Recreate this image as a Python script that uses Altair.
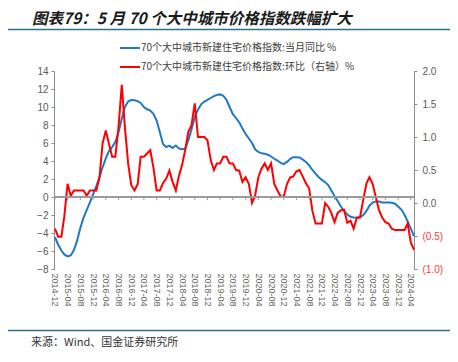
import altair as alt
import pandas as pd

# ---------------- data ----------------
months = pd.date_range("2014-12-01", "2024-05-01", freq="MS").strftime("%Y-%m-%d").tolist()

yoy = [-4.47, -5.3, -5.95, -6.38, -6.6, -6.5, -5.9, -4.85, -3.45, -2.3,
       -1.45, -0.6, 0.3, 1.2, 2.2, 3.3, 4.3, 5.1, 5.55, 6.1,
       7.2, 8.7, 10.0, 10.6, 10.78, 10.75, 10.65, 10.45, 10.0, 9.75,
       9.6, 9.25, 8.5, 7.2, 5.9, 5.55, 5.7, 5.45, 5.72, 5.4,
       5.3, 5.35, 6.3, 7.5, 8.9, 9.7, 10.3, 10.6, 10.8, 11.0,
       11.2, 11.35, 11.4, 11.25, 10.8, 10.0, 9.2, 8.75, 8.3, 7.6,
       7.0, 6.5, 6.0, 5.3, 5.0, 4.85, 4.8, 4.7, 4.5, 4.25,
       4.05, 3.8, 3.65, 3.9, 4.25, 4.42, 4.42, 4.4, 4.15, 3.9,
       3.5, 3.0, 2.6, 2.2, 1.9, 1.65, 1.3, 0.72, 0.1, -0.45,
       -1.05, -1.55, -1.95, -2.2, -2.28, -2.3, -2.25, -2.0, -1.55, -0.97,
       -0.62, -0.5, -0.5, -0.6, -0.62, -0.62, -0.65, -0.75, -1.05, -1.4,
       -2.0, -2.7, -3.55, -4.35]

mom = [-0.39, -0.51, -0.51, -0.2, 0.29, 0.11, 0.19, 0.19, 0.19, 0.19,
       0.11, 0.19, 0.19, 0.19, 0.39, 0.9, 1.10, 0.9, 0.7, 0.7,
       1.15, 1.79, 1.15, 0.6, 0.27, 0.19, 0.29, 0.7, 0.7, 0.75,
       0.80, 0.54, 0.19, 0.19, 0.3, 0.37, 0.49, 0.32, 0.19, 0.40,
       0.57, 0.8, 1.08, 1.18, 1.51, 1.0, 1.0, 1.0, 0.95, 0.65,
       0.5, 0.6, 0.6, 0.7, 0.7, 0.6, 0.6, 0.5, 0.49, 0.32,
       0.39, 0.29, 0.0, 0.11, 0.39, 0.52, 0.6, 0.5, 0.6, 0.29,
       0.19, 0.1, 0.1, 0.29, 0.39, 0.4, 0.48, 0.5, 0.4, 0.3,
       0.22, -0.12, -0.31, -0.31, -0.31, 0.0, -0.06, -0.15, -0.29, -0.15,
       -0.11, -0.1, -0.3, -0.27, -0.39, -0.22, -0.22, 0.05, 0.3, 0.39,
       0.29, 0.09, -0.11, -0.22, -0.29, -0.31, -0.39, -0.41, -0.41, -0.41,
       -0.41, -0.31, -0.6, -0.71]

tick_labels = ["2014-12", "2015-04", "2015-08", "2015-12", "2016-04", "2016-08",
               "2016-12", "2017-04", "2017-08", "2017-12", "2018-04", "2018-08",
               "2018-12", "2019-04", "2019-08", "2019-12", "2020-04", "2020-08",
               "2020-12", "2021-04", "2021-08", "2021-12", "2022-04", "2022-08",
               "2022-12", "2023-04", "2023-08", "2023-12", "2024-04"]

left_ticks = [-8, -6, -4, -2, 0, 2, 4, 6, 8, 10, 12, 14]
right_ticks = [-1.0, -0.5, 0.0, 0.5, 1.0, 1.5, 2.0]

title_text = "图表79：5 月 70 个大中城市价格指数跌幅扩大"
legend_yoy = "70个大中城市新建住宅价格指数:当月同比 %"
legend_mom = "70个大中城市新建住宅价格指数:环比（右轴）%"
source_text = "来源：Wind、国金证券研究所"

assert len(months) == len(yoy) == len(mom)

df = pd.DataFrame({"month": months, "yoy": yoy, "mom": mom})
ticks_df = pd.DataFrame({"month": [t + "-01" for t in tick_labels], "z": 0.0, "z2": -0.35})
one = pd.DataFrame({"k": [0]})

# ---------------- styling ----------------
W, H = 360, 198
BLUE = "#1e78c8"
RED = "#ff0000"
GREY = "#595959"
AXC = "#8c8c8c"
LAB_FONT = "Liberation Sans"
CJK = "Noto Sans CJK SC"

def dt(s):
    y, m = s.split("-")[:2]
    return alt.DateTime(year=int(y), month=int(m), date=1, utc=True)

xscale = alt.Scale(type="utc",
                   domain=[alt.DateTime(year=2014, month=11, date=22, utc=True),
                           alt.DateTime(year=2024, month=5, date=1, utc=True)])
xaxis = alt.Axis(values=[dt(t) for t in tick_labels],
                 labelExpr="utcFormat(datum.value, '%Y-%m')",
                 labelAngle=90, domain=False, ticks=False, grid=False,
                 labelFontSize=9, labelColor="#666666", labelFont=LAB_FONT,
                 labelPadding=4, title=None, labelOverlap=False)
X = alt.X("month:T", scale=xscale, axis=xaxis)

lscale = alt.Scale(domain=[-8, 14], nice=False, zero=False)
rscale = alt.Scale(domain=[-1, 2], nice=False, zero=False)

blue = alt.Chart(df).mark_line(color=BLUE, strokeWidth=2).encode(
    x=X,
    y=alt.Y("yoy:Q", scale=lscale,
            axis=alt.Axis(orient="left", values=left_ticks, grid=False,
                          domainColor=AXC, tickColor=AXC, tickSize=3,
                          labelPadding=3, labelFontSize=10, labelColor=GREY,
                          labelFont=LAB_FONT, title=None)),
)

red = alt.Chart(df).mark_line(color=RED, strokeWidth=2).encode(
    x=X,
    y=alt.Y("mom:Q", scale=rscale,
            axis=alt.Axis(orient="right", values=right_ticks, grid=False,
                          domainColor=AXC, tickColor=AXC, tickSize=3,
                          labelPadding=5, labelFontSize=10, labelFont=LAB_FONT,
                          labelColor={"condition": {"test": "datum.value < 0", "value": "#ff3b3b"},
                                      "value": GREY},
                          labelExpr="datum.value < 0 ? '(' + format(-datum.value, '.1f') + ')' : format(datum.value, '.1f')",
                          title=None)),
)

# zero line (left scale) with small tick marks at label positions
xt = alt.Chart(ticks_df).mark_rule(color="#9a9a9a", strokeWidth=1).encode(
    x=X,
    y=alt.Y("z:Q", scale=lscale, axis=None),
    y2="z2:Q",
)
zero = alt.Chart(ticks_df).mark_rule(color="#9a9a9a", strokeWidth=1).encode(
    y=alt.Y("z:Q", scale=lscale, axis=None),
)

# ---------------- decorations ----------------
title = alt.Chart(one).mark_text(align="left", baseline="middle", font=CJK, fontSize=15.5,
                                 fontWeight="bold", fontStyle="italic", color="#1a1a1a").encode(
    x=alt.value(-22), y=alt.value(-52), text=alt.value(title_text))

top_line = alt.Chart(one).mark_rule(color="#2f6f96", strokeWidth=1.5).encode(
    x=alt.value(-46), x2=alt.value(398), y=alt.value(-41.5))

bot_line = alt.Chart(one).mark_rule(color="#2f6f96", strokeWidth=1.5).encode(
    x=alt.value(-46), x2=alt.value(398), y=alt.value(259.5))

source = alt.Chart(one).mark_text(align="left", baseline="middle", font=CJK, fontSize=11,
                                  color="#333333").encode(
    x=alt.value(-23), y=alt.value(271.5), text=alt.value(source_text))

leg_b_line = alt.Chart(one).mark_rule(color=BLUE, strokeWidth=2).encode(
    x=alt.value(66), x2=alt.value(86), y=alt.value(-23))
leg_b_text = alt.Chart(one).mark_text(align="left", baseline="middle", font=CJK, fontSize=10,
                                      color="#404040").encode(
    x=alt.value(87), y=alt.value(-23), text=alt.value(legend_yoy))
leg_r_line = alt.Chart(one).mark_rule(color=RED, strokeWidth=2).encode(
    x=alt.value(66), x2=alt.value(86), y=alt.value(-4))
leg_r_text = alt.Chart(one).mark_text(align="left", baseline="middle", font=CJK, fontSize=10,
                                      color="#404040").encode(
    x=alt.value(87), y=alt.value(-4), text=alt.value(legend_mom))

chart = alt.layer(
    blue, red, zero, xt, title, top_line, bot_line, source,
    leg_b_line, leg_b_text, leg_r_line, leg_r_text,
).resolve_scale(y="independent").properties(
    width=W, height=H,
    padding={"left": 46, "top": 63, "right": 36, "bottom": 85},
    autosize=alt.AutoSizeParams(type="none"),
    background="white",
).configure_view(stroke=None)

chart.save("out.html", embed_options={"renderer": "svg", "actions": False})
